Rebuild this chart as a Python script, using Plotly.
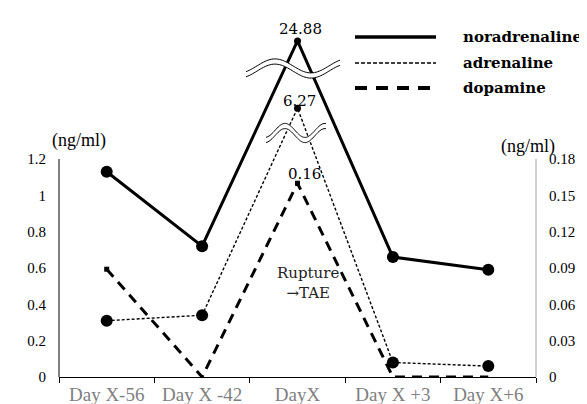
import numpy as np
import plotly.graph_objects as go

# ---------------- data ----------------
categories = ["Day X-56", "Day X -42", "DayX", "Day X +3", "Day X+6"]
noradrenaline = [1.13, 0.72, 24.88, 0.66, 0.59]   # ng/ml, left axis
adrenaline = [0.31, 0.34, 6.27, 0.08, 0.06]       # ng/ml, left axis
dopamine = [0.089, 0.0, 0.16, 0.0, 0.0]            # ng/ml, right axis
left_ticks = [0, 0.2, 0.4, 0.6, 0.8, 1.0, 1.2]
left_ticktext = ["0", "0.2", "0.4", "0.6", "0.8", "1", "1.2"]
right_ticks = [0, 0.03, 0.06, 0.09, 0.12, 0.15, 0.18]
right_ticktext = ["0", "0.03", "0.06", "0.09", "0.12", "0.15", "0.18"]

# broken-axis display positions for off-scale values (left axis max 1.2)
LEFT_MAX = 1.2
RIGHT_MAX = 0.18
noradrenaline_break_pos = 1.85
adrenaline_break_pos = 1.48

# ---------------- layout geometry ----------------
W, H = 587, 404
ML, MR, MT, MB = 51, 59, 20, 35
PW, PH = W - ML - MR, H - MT - MB
PX_PER_UNIT = (369 - 151) / LEFT_MAX
LEFT_RANGE = [0, PH / PX_PER_UNIT]
RIGHT_RANGE = [0, LEFT_RANGE[1] * RIGHT_MAX / LEFT_MAX]


def shown(vals, brk):
    return [v if v <= LEFT_MAX else brk for v in vals]


def px(x):
    return (x - ML) / PW


def py(y):
    return (H - MB - y) / PH


SERIF = "Liberation Serif, Times New Roman, serif"
SERIF2 = "DejaVu Serif, serif"

nor_y = shown(noradrenaline, noradrenaline_break_pos)
adr_y = shown(adrenaline, adrenaline_break_pos)
sizes_n = [12 if v <= LEFT_MAX else 7 for v in noradrenaline]
sizes_a = [12 if v <= LEFT_MAX else 7 for v in adrenaline]

fig = go.Figure()
fig.add_trace(go.Scatter(
    x=categories, y=nor_y, mode="lines+markers", name="noradrenaline",
    line=dict(color="black", width=3),
    marker=dict(color="black", size=sizes_n, opacity=1, line=dict(width=0)),
    cliponaxis=False, showlegend=False))
fig.add_trace(go.Scatter(
    x=categories, y=adr_y, mode="lines+markers", name="adrenaline",
    line=dict(color="black", width=1.4, dash="3px,2px"),
    marker=dict(color="black", size=sizes_a, opacity=1, line=dict(width=0)),
    cliponaxis=False, showlegend=False))
fig.add_trace(go.Scatter(
    x=categories, y=dopamine, mode="lines", name="dopamine", yaxis="y2",
    line=dict(color="black", width=3, dash="10px,7px"),
    cliponaxis=False, showlegend=False))
# small square markers of dopamine (zero values drawn just below the axis)
zero_drop = 10 / PX_PER_UNIT * RIGHT_MAX / LEFT_MAX
fig.add_trace(go.Scatter(
    x=categories, y=[v if v > 0 else -zero_drop for v in dopamine], mode="markers",
    yaxis="y2", marker=dict(color="black", size=5, symbol="square", opacity=1,
                            line=dict(width=0)),
    cliponaxis=False, showlegend=False, hoverinfo="skip"))

shapes = []
# axis lines
shapes.append(dict(type="line", xref="paper", yref="y", x0=0, x1=0, y0=0, y1=LEFT_MAX,
                   line=dict(color="black", width=1)))
shapes.append(dict(type="line", xref="paper", yref="y2", x0=1, x1=1, y0=0, y1=RIGHT_MAX,
                   line=dict(color="#a0a0a0", width=1)))


# wavy break marks
def wave(x0, x1, yc, amp, period, crest_x):
    xs = np.linspace(x0, x1, 60)
    ys = yc - amp * np.sin(np.pi / 2 + 2 * np.pi * (xs - crest_x) / period)
    return xs, ys


def path_of(xs, ys):
    return "M " + " L ".join(f"{px(a):.4f},{py(b):.4f}" for a, b in zip(xs, ys))


for (x0, x1, yc, amp, per, cx) in [(238, 332, 60.5, 7, 72, 267), (258, 318, 125, 7, 40, 277)]:
    xs, ys = wave(x0, x1, yc, amp, per, cx)
    shapes.append(dict(type="path", xref="paper", yref="paper", path=path_of(xs, ys),
                       line=dict(color="white", width=5), layer="above"))
    for off in (-2.6, 2.6):
        shapes.append(dict(type="path", xref="paper", yref="paper", path=path_of(xs, ys + off),
                           line=dict(color="black", width=1), layer="above"))

# legend lines
leg = [("noradrenaline", 29, dict(color="black", width=3.5)),
       ("adrenaline", 55, dict(color="black", width=1.5, dash="4px,2px")),
       ("dopamine", 80, dict(color="black", width=4, dash="12px,9px"))]
annotations = []
for name, yy, ln in leg:
    shapes.append(dict(type="line", xref="paper", yref="paper", x0=px(347), x1=px(428),
                       y0=py(yy), y1=py(yy), line=ln))
    annotations.append(dict(xref="paper", yref="paper", x=px(453), y=py(yy), text=name,
                            showarrow=False, xanchor="left", yanchor="middle",
                            font=dict(family=SERIF2, size=15, color="black", weight="bold")))

# value labels
annotations += [
    dict(x=categories[2], y=nor_y[2], text=f"{noradrenaline[2]:.2f}", showarrow=False,
         xshift=3, yshift=12, font=dict(family=SERIF2, size=15, color="black")),
    dict(x=categories[2], y=adr_y[2], text=f"{adrenaline[2]:.2f}", showarrow=False,
         xshift=2, yshift=7, font=dict(family=SERIF2, size=15, color="black")),
    dict(x=categories[2], y=dopamine[2], yref="y2", text=f"{dopamine[2]:.2f}", showarrow=False,
         xshift=7, yshift=9, font=dict(family=SERIF2, size=15, color="black")),
    dict(xref="paper", yref="paper", x=px(300), y=py(296), text="Rupture<br>→TAE",
         showarrow=False, font=dict(family=SERIF2, size=15, color="#222222")),
    dict(xref="paper", yref="paper", x=px(42), y=py(120), text="(ng/ml)", showarrow=False,
         font=dict(family=SERIF, size=18, color="black")),
    dict(xref="paper", yref="paper", x=px(549), y=py(126), text="(ng/ml)", showarrow=False,
         font=dict(family=SERIF, size=18, color="black")),
]

fig.update_layout(
    width=W, height=H, margin=dict(l=ML, r=MR, t=MT, b=MB, autoexpand=False),
    paper_bgcolor="white", plot_bgcolor="white",
    shapes=shapes, annotations=annotations,
    xaxis=dict(type="category", categoryorder="array", categoryarray=categories,
               range=[-0.5, 4.5], showgrid=False, zeroline=False, automargin=False,
               showline=True, linecolor="black", linewidth=1.3,
               ticks="outside", tickson="boundaries", ticklen=5, tickcolor="black",
               tickfont=dict(family=SERIF, size=19, color="#7f7f7f")),
    yaxis=dict(range=LEFT_RANGE, tickvals=left_ticks, ticktext=left_ticktext,
               showgrid=False, zeroline=False, showline=False, ticks="", automargin=False,
               ticklabelstandoff=12,
               tickfont=dict(family=SERIF, size=15, color="black")),
    yaxis2=dict(range=RIGHT_RANGE, tickvals=right_ticks, ticktext=right_ticktext,
                overlaying="y", side="right", showgrid=False, zeroline=False, automargin=False,
                showline=False, ticks="", ticklabelstandoff=12,
                tickfont=dict(family=SERIF, size=15, color="black")),
)

fig.write_html("out.html")
